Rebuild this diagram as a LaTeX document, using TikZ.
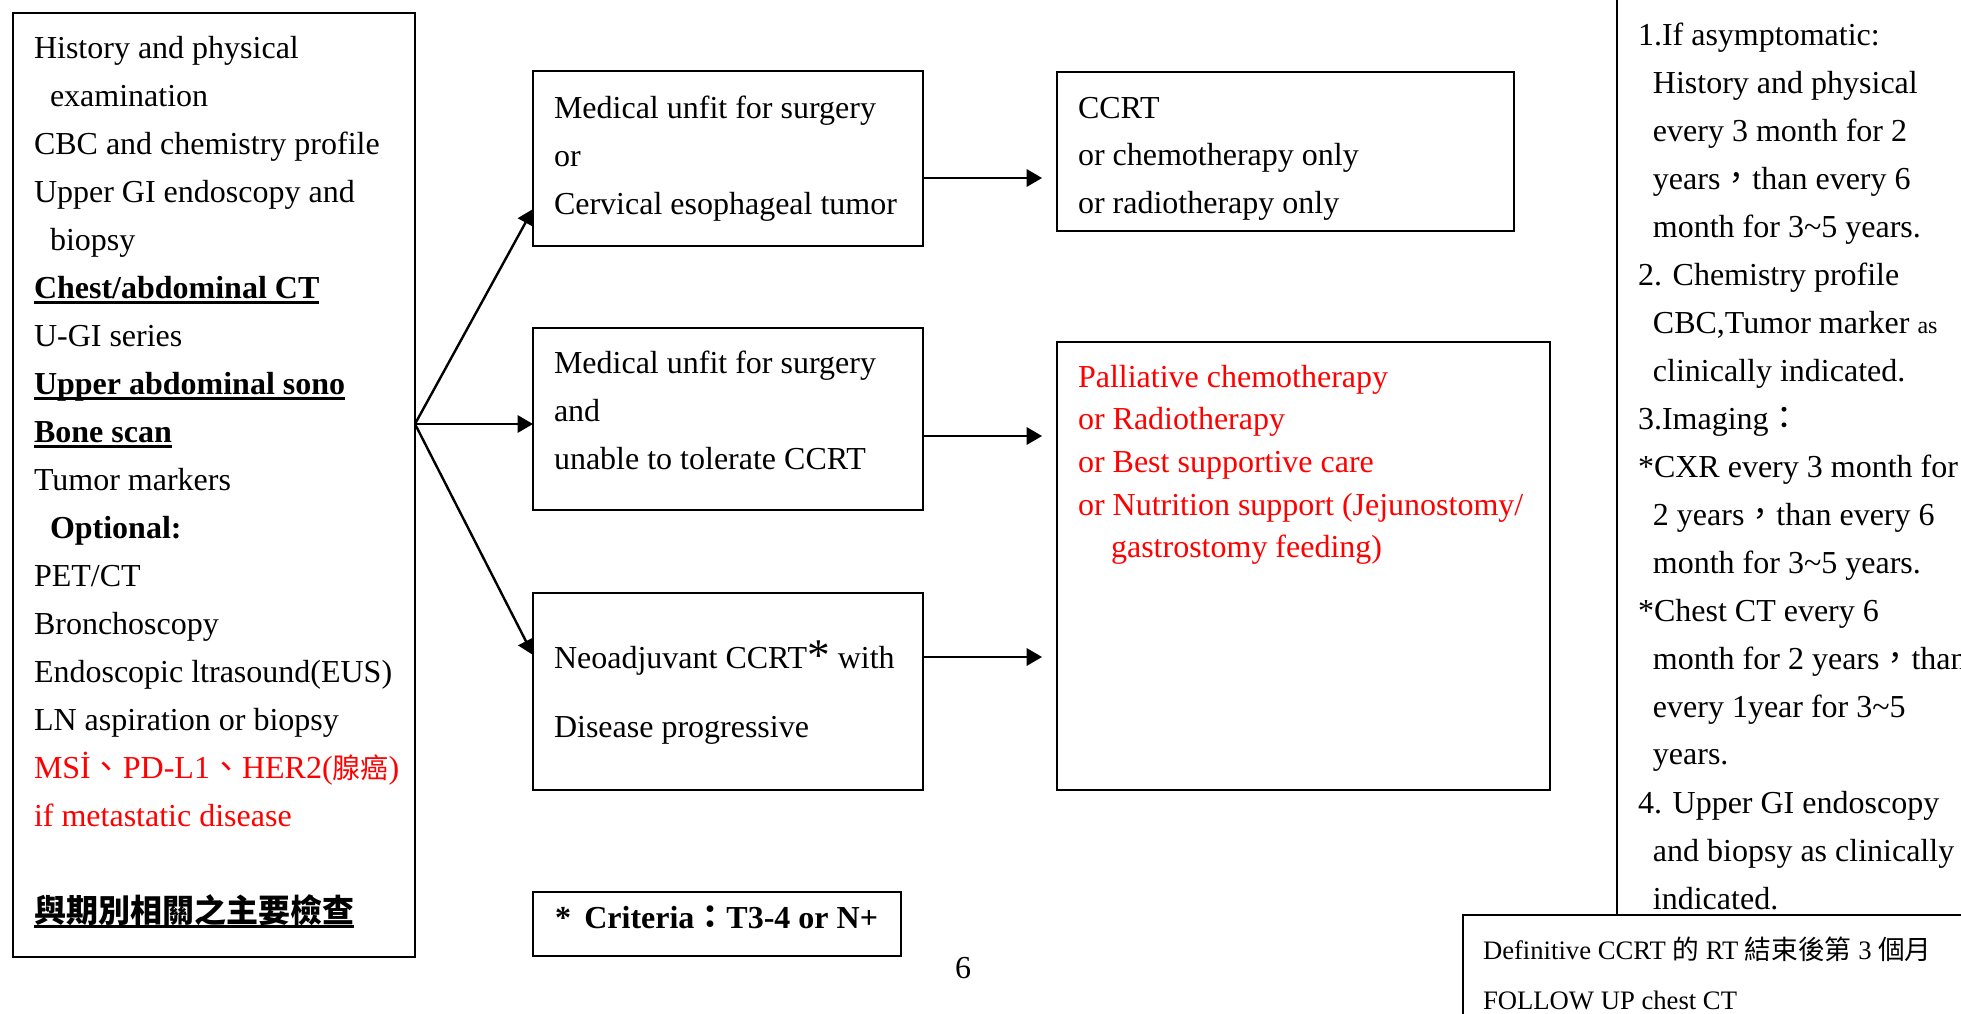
\documentclass[tikz,border=0pt]{standalone}
\usepackage{fontspec}
\setmainfont{Liberation Serif}
\newfontfamily\cjk{Noto Sans CJK TC}
\usetikzlibrary{arrows.meta,fit}
\newcommand{\ulbox}[1]{\setbox0=\hbox{#1}\rlap{\rule[-2.2pt]{\wd0}{1pt}}\box0}
\newcommand{\fc}{{\cjk ，}}
\newcommand{\fcolon}{{\cjk ：}}
\tikzset{
  box/.style={draw, line width=0.8pt, inner sep=0pt, outer sep=0pt},
  txt/.style={anchor=base west, inner sep=0pt, outer sep=0pt, font=\fontsize{12}{18}\selectfont},
  arr/.style={line width=0.9pt, -{Triangle[length=5.8pt,width=6.5pt]}},
}
\begin{document}
\begin{tikzpicture}[x=0.375pt,y=-0.375pt]
\useasboundingbox (0,0) rectangle (1961,1014);
\clip (0,0) rectangle (1961,1014);
\fill[white] (0,0) rectangle (1961,1014);

% boxes
\node[box, fit={(13,13)(415,957)}] (L) {};
\node[box, fit={(533,71)(923,246)}] (A) {};
\node[box, fit={(533,328)(923,510)}] (B) {};
\node[box, fit={(533,593)(923,790)}] (C) {};
\node[box, fit={(1057,72)(1514,231)}] (CC) {};
\node[box, fit={(1057,342)(1550,790)}] (P) {};
\node[box, fit={(533,892)(901,956)}] (K) {};
\node[box, fit={(1617,-40)(2020,915)}] (F) {};
\node[box, fit={(1463,915)(2020,1060)}] (D) {};

% left box text
\node[txt] (tL) at (34,58) {\parbox[t]{150mm}{\fontsize{12}{18}\selectfont
History and physical\\
\hspace*{6pt}examination\\
CBC and chemistry profile\\
Upper GI endoscopy and\\
\hspace*{6pt}biopsy\\
\ulbox{\bfseries Chest/abdominal CT}\\
U-GI series\\
\ulbox{\bfseries Upper abdominal sono}\\
\ulbox{\bfseries Bone scan}\\
Tumor markers\\
\hspace*{6pt}{\bfseries Optional:}\\
PET/CT\\
Bronchoscopy\\
Endoscopic ltrasound(EUS)\\
LN aspiration or biopsy\\
{\color{red}MSİ{\cjk 、}PD-L1{\cjk 、}HER2({\cjk\fontsize{10.5}{10.5}\selectfont 腺癌})}\\
{\color{red}if metastatic disease}\\
\mbox{}\\
\ulbox{{\cjk\bfseries 與期別相關之主要檢查}}}};

% box A
\node[txt] (tA) at (554,118) {\parbox[t]{100mm}{\fontsize{12}{18}\selectfont
Medical unfit for surgery\\
or\\
Cervical esophageal tumor}};
% box B
\node[txt] (tB) at (554,373) {\parbox[t]{100mm}{\fontsize{12}{18}\selectfont
Medical unfit for surgery\\
and\\
unable to tolerate CCRT}};
% box C
\node[txt] (tC) at (554,668) {\parbox[t]{100mm}{\fontsize{12}{25.9}\selectfont
Neoadjuvant CCRT\raisebox{-1pt}{\fontsize{17}{17}\selectfont *} with\\
Disease progressive}};
% CCRT box
\node[txt] (tCC) at (1078,118) {\parbox[t]{100mm}{\fontsize{12}{17.9}\selectfont
CCRT\\
or chemotherapy only\\
or radiotherapy only}};
% palliative box
\node[txt, text=red] (tP) at (1078,387) {\parbox[t]{100mm}{\fontsize{12}{16.03}\selectfont
Palliative chemotherapy\\
or Radiotherapy\\
or Best supportive care\\
or Nutrition support (Jejunostomy/\\
\hspace*{12.4pt}gastrostomy feeding)}};
% criteria
\node[txt] (tK) at (555,928) {\bfseries *\hspace{5pt}Criteria{\cjk\bfseries ：}T3-4 or N+};
% page number
\node[txt, anchor=base] (pg) at (963,978) {6};

% follow-up text
\node[txt] (tF) at (1638,45) {\parbox[t]{120mm}{\fontsize{12}{18}\selectfont
1.If asymptomatic:\\
\hspace*{5.6pt}History and physical\\
\hspace*{5.6pt}every 3 month for 2\\
\hspace*{5.6pt}years\fc than every 6\\
\hspace*{5.6pt}month for 3\textasciitilde 5 years.\\
2. Chemistry profile\\
\hspace*{5.6pt}CBC,Tumor marker {\fontsize{9}{9}\selectfont as}\\
\hspace*{5.6pt}clinically indicated.\\
3.Imaging\fcolon\\
{}*CXR every 3 month for\\
\hspace*{5.6pt}2 years\fc than every 6\\
\hspace*{5.6pt}month for 3\textasciitilde 5 years.\\
{}*Chest CT every 6\\
\hspace*{5.6pt}month for 2 years\fc than\\
\hspace*{5.6pt}every 1year for 3\textasciitilde 5\\
\hspace*{5.6pt}years.\\
4. Upper GI endoscopy\\
\hspace*{5.6pt}and biopsy as clinically\\
\hspace*{5.6pt}indicated.}};

% bottom box text
\node[txt] (tD) at (1483,959) {\parbox[t]{120mm}{\fontsize{10}{18.75}\selectfont
Definitive CCRT {\cjk 的} RT {\cjk 結束後第} 3 {\cjk 個月}\\
FOLLOW UP chest CT}};

% connectors
\coordinate (O) at (L.east |- 0,424);
\draw[arr] (O) -- (A.west |- 0,209);
\draw[arr] (O) -- (B.west |- O);
\draw[arr] (O) -- (C.west |- 0,655);
\draw[arr, shorten >=5.6pt] (A.east |- 0,178) -- (CC.west |- 0,178);
\draw[arr, shorten >=5.6pt] (B.east |- 0,436) -- (P.west |- 0,436);
\draw[arr, shorten >=5.6pt] (C.east |- 0,657) -- (P.west |- 0,657);
\end{tikzpicture}
\end{document}
